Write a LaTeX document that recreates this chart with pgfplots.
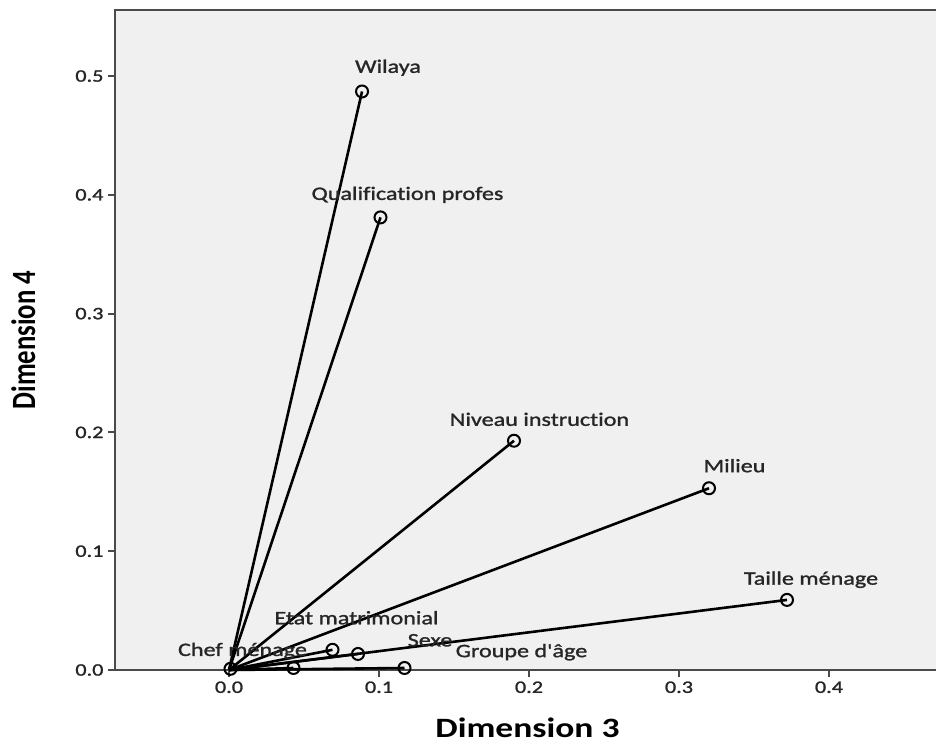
\documentclass[border=0pt]{standalone}
\usepackage{fontspec}
\setmainfont{Carlito}[FakeStretch=1.27, Ligatures=NoCommon]
\newfontfamily\lblfont{Carlito}[FakeStretch=1.27, FakeBold=1.3, Ligatures=NoCommon]
\newfontfamily\ylabfont{Carlito}[FakeStretch=0.787]
\usepackage{pgfplots}
\pgfplotsset{compat=1.18}
\usetikzlibrary{calc}
\definecolor{bg}{HTML}{F0F0F0}
\definecolor{frame}{HTML}{4A4A4A}
\definecolor{txt}{HTML}{262626}
\tikzset{
  lbl/.style={font=\lblfont\fontsize{19bp}{21bp}\selectfont, text=txt, inner sep=0pt},
  vec/.style={black, line width=2.6bp, mark=o, mark indices={2},
    mark size=6bp, mark options={black, line width=2bp, fill=none}},
}

\begin{document}
\begin{tikzpicture}
  \begin{axis}[
    name=ax,
    scale only axis,
    width=825bp, height=660bp,
    xmin=-0.076, xmax=0.474,
    ymin=0, ymax=0.5556,
    axis background/.style={fill=bg},
    axis line style={draw=frame, line width=2.4bp},
    clip=false,
    xtick={0,0.1,0.2,0.3,0.4},
    ytick={0,0.1,0.2,0.3,0.4,0.5},
    xtick pos=bottom, ytick pos=left,
    tick align=outside,
    major tick length=7bp,
    every tick/.style={draw=frame, line width=2bp},
    /pgf/number format/assume math mode=true,
    /pgf/number format/fixed,
    /pgf/number format/fixed zerofill,
    /pgf/number format/precision=1,
    ticklabel style={font=\lblfont\fontsize{17.5bp}{20bp}\selectfont, text=txt},
    xticklabel style={yshift=-1bp},
    yticklabel style={xshift=-1bp},
    xlabel={Dimension 3},
    xlabel style={font=\fontsize{28bp}{30bp}\selectfont\bfseries, text=black, yshift=-18bp},
    ylabel={Dimension 4},
    ylabel style={font=\ylabfont\fontsize{34bp}{36bp}\selectfont\bfseries, text=black, yshift=33bp},
  ]
    % Wilaya
    \addplot[vec] coordinates {(0,0) (0.0887,0.487)};
    % Qualification profes
    \addplot[vec] coordinates {(0,0) (0.101,0.381)};
    % Niveau instruction
    \addplot[vec] coordinates {(0,0) (0.190,0.193)};
    % Milieu
    \addplot[vec] coordinates {(0,0) (0.320,0.153)};
    % Taille menage
    \addplot[vec] coordinates {(0,0) (0.372,0.059)};
    % Etat matrimonial
    \addplot[vec] coordinates {(0,0) (0.069,0.017)};
    % Sexe
    \addplot[vec] coordinates {(0,0) (0.086,0.0135)};
    % Groupe d'age
    \addplot[vec] coordinates {(0,0) (0.117,0.0017)};
    % unlabelled, under Chef menage
    \addplot[vec] coordinates {(0,0) (0.043,0.0017)};
    % Chef menage
    \addplot[vec] coordinates {(0,0) (0.001,0.001)};

    \node[lbl] at (axis cs:0.106,0.507) {Wilaya};
    \node[lbl] at (axis cs:0.119,0.400) {Qualification profes};
    \node[lbl] at (axis cs:0.207,0.211) {Niveau instruction};
    \node[lbl] at (axis cs:0.337,0.172) {Milieu};
    \node[lbl] at (axis cs:0.388,0.076) {Taille ménage};
    \node[lbl] at (axis cs:0.085,0.044) {Etat matrimonial};
    \node[lbl] at (axis cs:0.134,0.025) {Sexe};
    \node[lbl] at (axis cs:0.195,0.015) {Groupe d'âge};
    \node[lbl] at (axis cs:0.009,0.016) {Chef ménage};
  \end{axis}
  \pgfresetboundingbox
  \path ($(ax.south west)+(-115bp,-74bp)$) rectangle ($(ax.north west)+(821bp,10bp)$);
\end{tikzpicture}
\end{document}
